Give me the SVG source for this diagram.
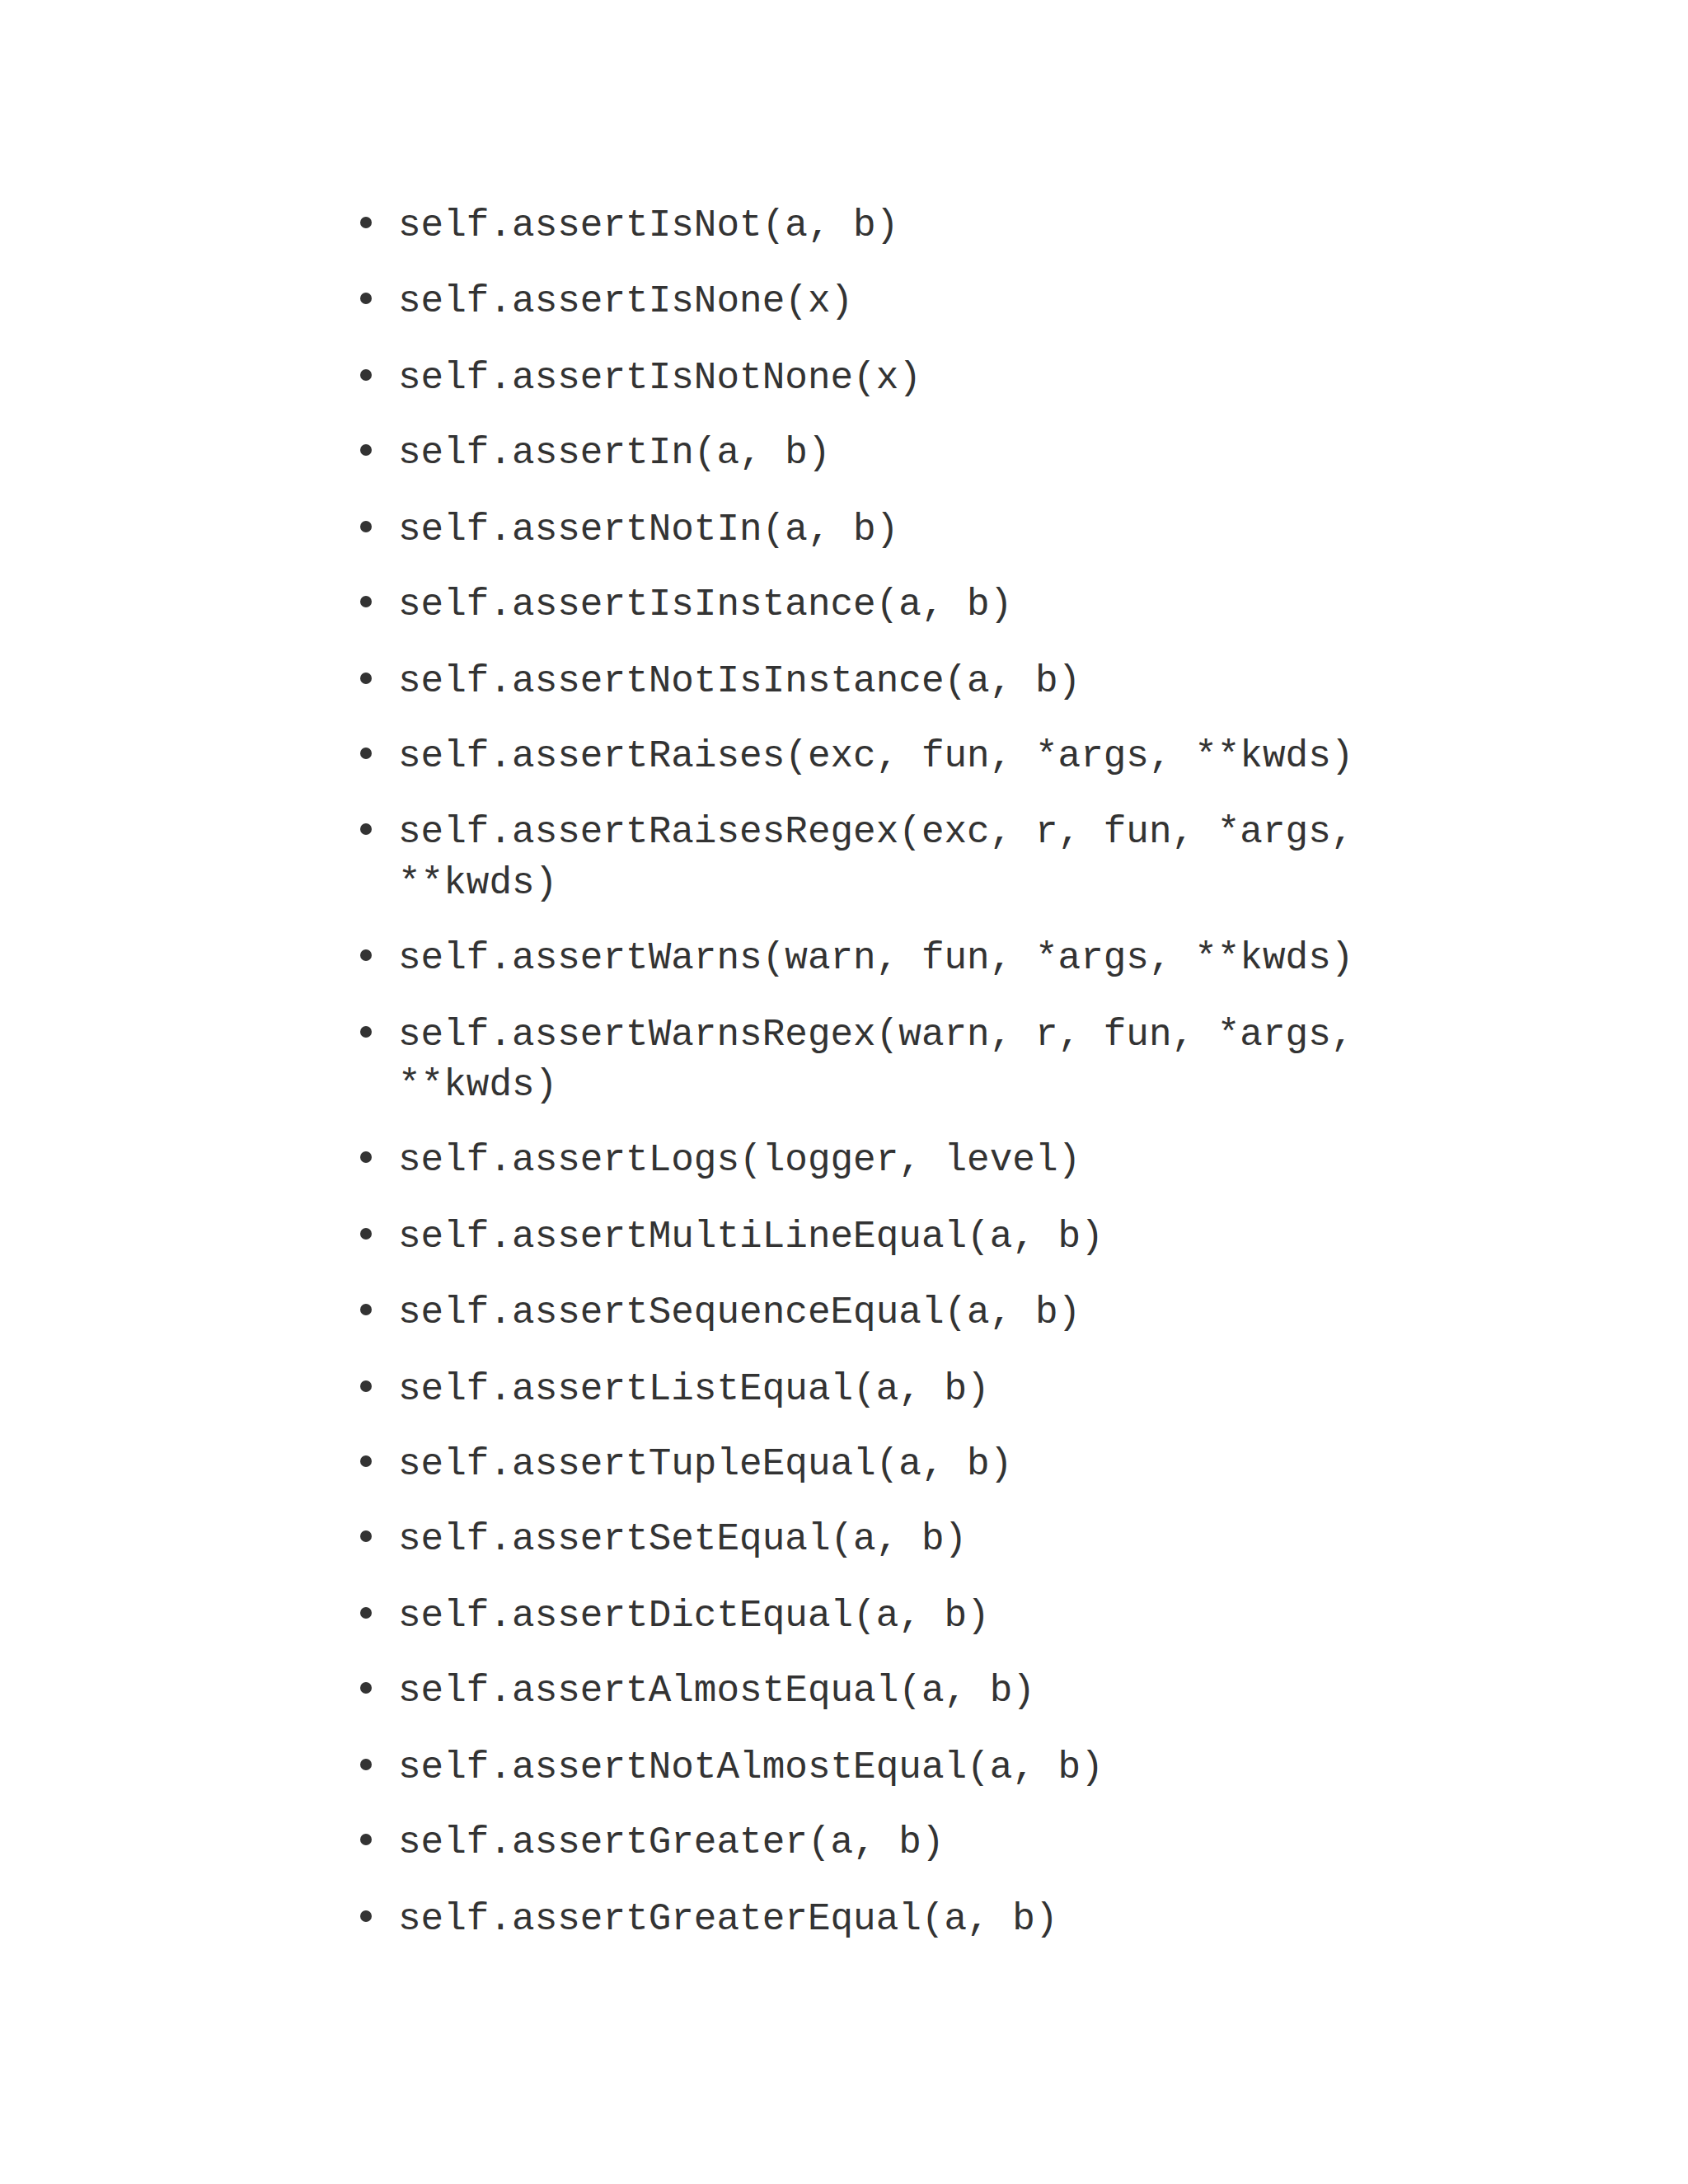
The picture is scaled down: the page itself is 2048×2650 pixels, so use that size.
<svg xmlns="http://www.w3.org/2000/svg" width="2048" height="2650" viewBox="0 0 2048 2650">
<style>
text{font-family:"Liberation Mono","DejaVu Sans Mono",monospace;font-size:46px;fill:#333333}
circle{fill:#333333}
</style>
<rect width="2048" height="2650" fill="#ffffff"/>
<g id="list">
<circle cx="444" cy="270" r="7"/><text x="483" y="286">self.assertIsNot(a, b)</text>
<circle cx="444" cy="362" r="7"/><text x="483" y="378">self.assertIsNone(x)</text>
<circle cx="444" cy="455" r="7"/><text x="483" y="471">self.assertIsNotNone(x)</text>
<circle cx="444" cy="546" r="7"/><text x="483" y="562">self.assertIn(a, b)</text>
<circle cx="444" cy="639" r="7"/><text x="483" y="655">self.assertNotIn(a, b)</text>
<circle cx="444" cy="730" r="7"/><text x="483" y="746">self.assertIsInstance(a, b)</text>
<circle cx="444" cy="823" r="7"/><text x="483" y="839">self.assertNotIsInstance(a, b)</text>
<circle cx="444" cy="914" r="7"/><text x="483" y="930">self.assertRaises(exc, fun, *args, **kwds)</text>
<circle cx="444" cy="1006" r="7"/><text x="483" y="1022">self.assertRaisesRegex(exc, r, fun, *args,</text><text x="483" y="1084">**kwds)</text>
<circle cx="444" cy="1159" r="7"/><text x="483" y="1175">self.assertWarns(warn, fun, *args, **kwds)</text>
<circle cx="444" cy="1252" r="7"/><text x="483" y="1268">self.assertWarnsRegex(warn, r, fun, *args,</text><text x="483" y="1329">**kwds)</text>
<circle cx="444" cy="1404" r="7"/><text x="483" y="1420">self.assertLogs(logger, level)</text>
<circle cx="444" cy="1497" r="7"/><text x="483" y="1513">self.assertMultiLineEqual(a, b)</text>
<circle cx="444" cy="1589" r="7"/><text x="483" y="1605">self.assertSequenceEqual(a, b)</text>
<circle cx="444" cy="1682" r="7"/><text x="483" y="1698">self.assertListEqual(a, b)</text>
<circle cx="444" cy="1773" r="7"/><text x="483" y="1789">self.assertTupleEqual(a, b)</text>
<circle cx="444" cy="1864" r="7"/><text x="483" y="1880">self.assertSetEqual(a, b)</text>
<circle cx="444" cy="1957" r="7"/><text x="483" y="1973">self.assertDictEqual(a, b)</text>
<circle cx="444" cy="2048" r="7"/><text x="483" y="2064">self.assertAlmostEqual(a, b)</text>
<circle cx="444" cy="2141" r="7"/><text x="483" y="2157">self.assertNotAlmostEqual(a, b)</text>
<circle cx="444" cy="2232" r="7"/><text x="483" y="2248">self.assertGreater(a, b)</text>
<circle cx="444" cy="2325" r="7"/><text x="483" y="2341">self.assertGreaterEqual(a, b)</text>
</g>
</svg>
